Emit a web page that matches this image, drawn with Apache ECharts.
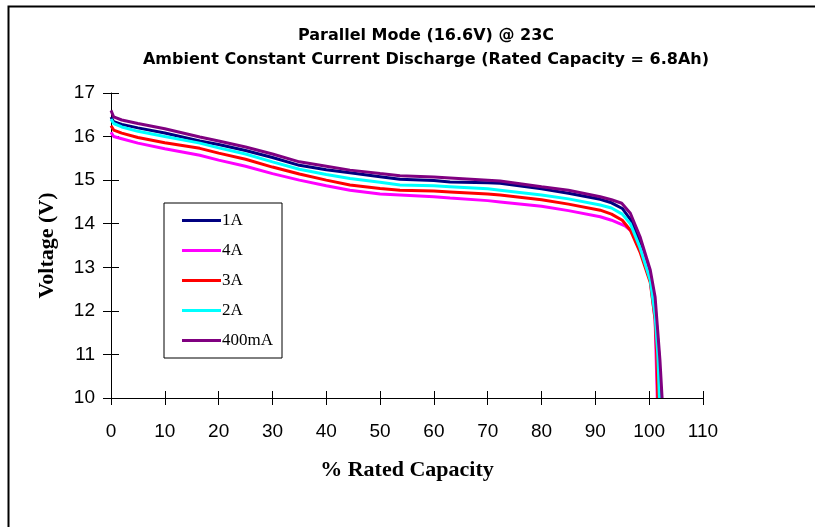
<!DOCTYPE html>
<html>
<head>
<meta charset="utf-8">
<script src="https://cdn.jsdelivr.net/npm/echarts@6/dist/echarts.min.js"></script>
<style>
html,body{margin:0;padding:0;background:#fff;}
#chart{width:815px;height:527px;}
</style>
</head>
<body>
<div id="chart"></div>
<script>
// Data (percent rated capacity, voltage)
const seriesNames = ['1A', '4A', '3A', '2A', '400mA'];
const seriesColors = ['#000080', '#ff00ff', '#ff0000', '#00ffff', '#800080'];

const data1A = [[0,16.45],[0.5,16.34],[2,16.28],[5,16.2],[10,16.08],[16.5,15.9],[20,15.82],[25,15.68],[30,15.52],[35,15.34],[40,15.24],[44.4,15.17],[50,15.08],[53.7,15.02],[60,14.99],[63,14.96],[70,14.94],[72.3,14.93],[80,14.8],[85,14.7],[90.9,14.56],[93,14.48],[95,14.35],[96.5,14.1],[98.3,13.55],[100.2,12.8],[101.1,12.1],[101.8,11.0],[102.2,10.0]];
const data4A = [[0,16.1],[0.5,16.0],[2,15.95],[5,15.85],[10,15.72],[16.5,15.57],[20,15.46],[25,15.32],[30,15.15],[35,15.0],[40,14.87],[44.4,14.77],[50,14.68],[53.7,14.66],[60,14.62],[63,14.59],[70,14.53],[72.3,14.5],[80,14.4],[85,14.3],[90.9,14.16],[93,14.08],[95.5,13.95],[96.8,13.82],[98.6,13.36],[100.2,12.71],[101.1,11.79],[101.5,10.0]];
const data3A = [[0,16.25],[0.5,16.15],[2,16.08],[5,15.98],[10,15.86],[16.5,15.73],[20,15.62],[25,15.48],[30,15.3],[35,15.14],[40,15.0],[44.4,14.89],[50,14.81],[53.7,14.77],[60,14.75],[63,14.73],[70,14.68],[72.3,14.66],[80,14.55],[85,14.45],[90.9,14.31],[93,14.22],[95,14.08],[96.5,13.85],[98.3,13.35],[100.2,12.65],[101.1,11.8],[101.4,11.0],[101.6,10.0]];
const data2A = [[0,16.4],[0.5,16.3],[2,16.22],[5,16.12],[10,16.0],[16.5,15.85],[20,15.74],[25,15.6],[30,15.42],[35,15.25],[40,15.13],[44.4,15.04],[50,14.95],[53.7,14.89],[60,14.87],[63,14.85],[70,14.8],[72.3,14.77],[80,14.66],[85,14.57],[90.9,14.43],[93,14.36],[95,14.22],[96.5,14.0],[98.3,13.45],[100.2,12.7],[101.1,11.9],[101.6,11.0],[101.9,10.0]];
const data400mA = [[0,16.6],[0.5,16.45],[2,16.38],[5,16.3],[10,16.18],[16.5,15.99],[20,15.9],[25,15.76],[30,15.6],[35,15.42],[40,15.32],[44.4,15.23],[50,15.15],[53.7,15.1],[60,15.07],[63,15.05],[70,15.0],[72.3,14.98],[80,14.85],[85,14.77],[90.9,14.62],[93,14.55],[94.9,14.47],[96.5,14.24],[98.3,13.7],[100.2,12.94],[101.1,12.32],[102,10.87],[102.4,10.0]];
const seriesData = [data1A, data4A, data3A, data2A, data400mA];

const titleLines = ['Parallel Mode (16.6V) @ 23C', 'Ambient Constant Current Discharge (Rated Capacity = 6.8Ah)'];
const xAxisName = '% Rated Capacity';
const yAxisName = 'Voltage (V)';

const chart = echarts.init(document.getElementById('chart'), null, {renderer: 'canvas'});

const tickStyle = {color: '#000', width: 1};
const option = {
  backgroundColor: '#fff',
  animation: false,
  graphic: [{
    type: 'rect',
    shape: {x: 8.5, y: 6.5, width: 900, height: 600},
    style: {fill: 'none', stroke: '#000', lineWidth: 2},
    silent: true, z: -1
  }],
  title: {
    text: titleLines.join('\n'),
    left: 421, top: 19, textAlign: 'center',
    textStyle: {fontFamily: 'DejaVu Sans', fontWeight: 'bold', fontSize: 16, lineHeight: 24, color: '#000'}
  },
  legend: {
    orient: 'vertical',
    left: 164, top: 203,
    padding: [9, 9, 9, 18],
    itemGap: 13,
    itemWidth: 39, itemHeight: 3,
    icon: 'rect',
    borderColor: '#000', borderWidth: 1,
    textStyle: {fontFamily: 'Liberation Serif', fontSize: 17, color: '#000', padding: [0, 0, 0, -4]},
    data: seriesNames
  },
  grid: {left: 111, top: 93, width: 592, height: 305},
  xAxis: [{
    type: 'value', min: 0, max: 110, interval: 10,
    name: xAxisName, nameLocation: 'middle', nameGap: 61,
    nameTextStyle: {fontFamily: 'Liberation Serif', fontWeight: 'bold', fontSize: 22, color: '#000'},
    axisLine: {show: true, onZero: false, lineStyle: {color: '#000', width: 1}},
    axisTick: {show: true, length: 7, lineStyle: tickStyle},
    axisLabel: {fontFamily: 'Liberation Sans', fontSize: 19, color: '#000', margin: 24},
    splitLine: {show: false}
  }, {
    type: 'value', min: 0, max: 110, interval: 10, position: 'bottom',
    axisLine: {show: false},
    axisTick: {show: true, inside: true, length: 7, lineStyle: tickStyle},
    axisLabel: {show: false}, splitLine: {show: false}
  }],
  yAxis: [{
    type: 'value', min: 10, max: 17, interval: 1,
    name: yAxisName, nameLocation: 'middle', nameGap: 53, nameRotate: 90,
    nameTextStyle: {fontFamily: 'Liberation Serif', fontWeight: 'bold', fontSize: 22, color: '#000'},
    axisLine: {show: true, onZero: false, lineStyle: {color: '#000', width: 1}},
    axisTick: {show: true, length: 8, lineStyle: tickStyle},
    axisLabel: {fontFamily: 'Liberation Sans', fontSize: 19, color: '#000', margin: 16},
    splitLine: {show: false}
  }, {
    type: 'value', min: 10, max: 17, interval: 1, position: 'left',
    axisLine: {show: false},
    axisTick: {show: true, inside: true, length: 8, lineStyle: tickStyle},
    axisLabel: {show: false}, splitLine: {show: false}
  }],
  series: seriesNames.map((name, i) => ({
    name: name,
    type: 'line',
    xAxisIndex: 0, yAxisIndex: 0,
    data: seriesData[i],
    showSymbol: false,
    symbol: 'none',
    color: seriesColors[i],
    lineStyle: {width: 3, color: seriesColors[i]},
    z: 2 + i
  }))
};
chart.setOption(option);
</script>
</body>
</html>
